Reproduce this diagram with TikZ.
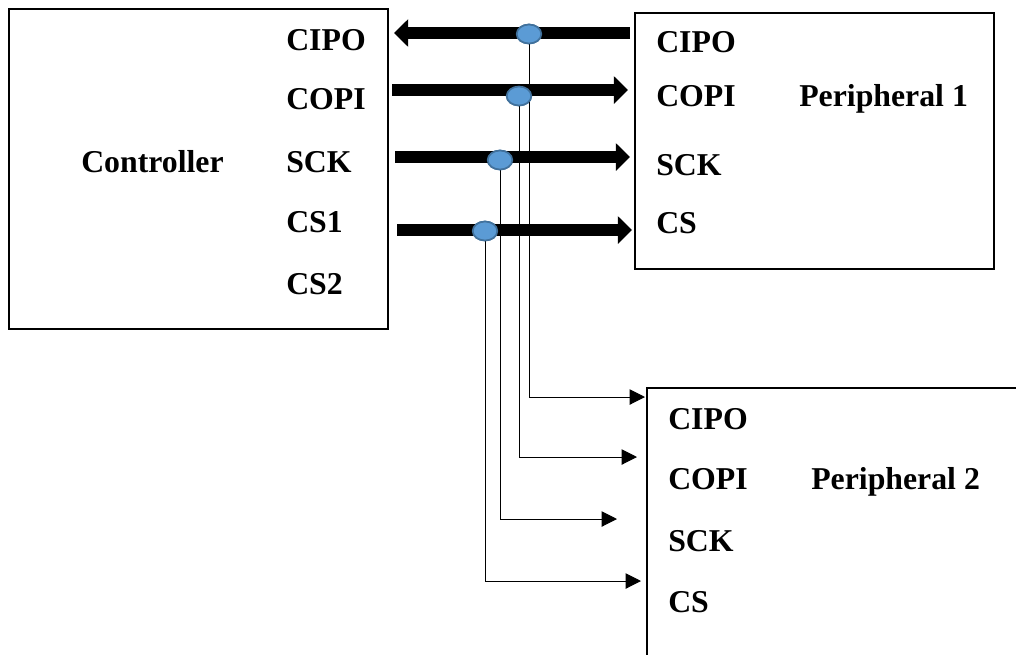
\documentclass[tikz,border=0pt]{standalone}
\usepackage{fontspec}
\setmainfont{Liberation Serif}
\usetikzlibrary{arrows.meta,positioning,shapes.geometric}
\definecolor{dotfill}{HTML}{5B9BD5}
\definecolor{dotline}{HTML}{41719C}
\tikzset{
devbox/.style={rectangle,draw=black,line width=1.4pt,anchor=north west,inner sep=0pt},
pinlabel/.style={anchor=base west,inner sep=0pt,font=\fontsize{22.6}{27}\selectfont\bfseries},
busarr/.style={line width=8pt,-{Triangle[length=10pt,width=19pt]}},
taparr/.style={line width=0.7pt,-{Triangle[length=11pt,width=11pt]}},
tapdot/.style={ellipse,draw=dotline,line width=1.2pt,fill=dotfill,inner sep=0pt,
  minimum width=17.5pt,minimum height=13.5pt}
}
\begin{document}
\begin{tikzpicture}[x=0.025cm,y=-0.025cm]
\useasboundingbox (0,0) rectangle (1016,654);
\clip (0,0) rectangle (1016,654);
% boxes
\node[devbox,minimum width=9.475cm,minimum height=8cm] (ctrl) at (8,8) {};
\node[devbox,minimum width=8.975cm,minimum height=6.4cm] (per1) at (634,12) {};
\node[devbox,minimum width=9.5cm,minimum height=7.5cm] (per2) at (646,387) {};
% controller labels
\node[pinlabel] (ctrlname) at (81,172) {Controller};
\node[pinlabel] (c-cipo) at (286,50) {CIPO};
\node[pinlabel] (c-copi) at (286,109) {COPI};
\node[pinlabel] (c-sck) at (286,172) {SCK};
\node[pinlabel] (c-cs1) at (286,232) {CS1};
\node[pinlabel] (c-cs2) at (286,294) {CS2};
% peripheral 1 labels
\node[pinlabel] (p1name) at (799,106) {Peripheral 1};
\node[pinlabel] (p1-cipo) at (656,52) {CIPO};
\node[pinlabel] (p1-copi) at (656,106) {COPI};
\node[pinlabel] (p1-sck) at (656,175) {SCK};
\node[pinlabel] (p1-cs) at (656,233) {CS};
% peripheral 2 labels
\node[pinlabel] (p2name) at (811,489) {Peripheral 2};
\node[pinlabel] (p2-cipo) at (668,429) {CIPO};
\node[pinlabel] (p2-copi) at (668,489) {COPI};
\node[pinlabel] (p2-sck) at (668,551) {SCK};
\node[pinlabel] (p2-cs) at (668,612) {CS};
% bus end points
\coordinate (bus-cipo-a) at (630,33);  \coordinate (bus-cipo-b) at (394,33);
\coordinate (bus-copi-a) at (392,90);  \coordinate (bus-copi-b) at (628,90);
\coordinate (bus-sck-a) at (395,157);  \coordinate (bus-sck-b) at (630,157);
\coordinate (bus-cs-a) at (397,230);   \coordinate (bus-cs-b) at (632,230);
% tap dots
\node[tapdot] (tap1) at (529,34) {};
\node[tapdot] (tap2) at (519,96) {};
\node[tapdot] (tap3) at (500,160) {};
\node[tapdot] (tap4) at (485,231) {};
% peripheral 2 inputs
\coordinate (in-cipo) at (645,397);
\coordinate (in-copi) at (637,457);
\coordinate (in-sck) at (617,519);
\coordinate (in-cs) at (641,581);
% thin branches
\draw[taparr] (tap1.center) |- (in-cipo);
\draw[taparr] (tap2.center) |- (in-copi);
\draw[taparr] (tap3.center) |- (in-sck);
\draw[taparr] (tap4.center) |- (in-cs);
% thick bus lines
\draw[busarr] (bus-cipo-a) -- (bus-cipo-b);
\draw[busarr] (bus-copi-a) -- (bus-copi-b);
\draw[busarr] (bus-sck-a) -- (bus-sck-b);
\draw[busarr] (bus-cs-a) -- (bus-cs-b);
% redraw dots on top
\foreach \t in {tap1,tap2,tap3,tap4}
  \node[tapdot] at (\t) {};
\end{tikzpicture}
\end{document}
